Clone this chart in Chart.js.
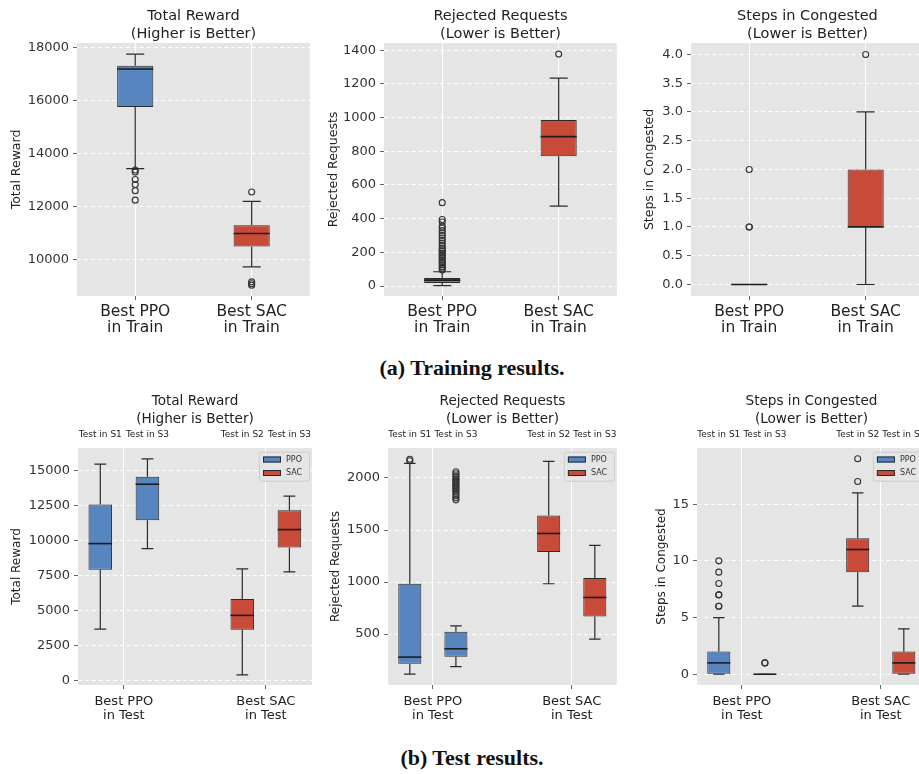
<!DOCTYPE html>
<html>
<head>
<meta charset="utf-8">
<script src="https://cdn.jsdelivr.net/npm/chart.js@4.4.1/dist/chart.umd.min.js"></script>
<style>
html, body { margin: 0; padding: 0; background: #fff; width: 919px; height: 774px; overflow: hidden; position: relative; }
canvas { position: absolute; }
.cap { position: absolute; left: 0; width: 944px; text-align: center; font: bold 22px "Liberation Serif", serif; color: #111; line-height: 24px; }
</style>
</head>
<body>
<canvas id="c1" width="315" height="340" style="left:0;top:0"></canvas>
<canvas id="c2" width="305" height="340" style="left:317px;top:0"></canvas>
<canvas id="c3" width="296" height="340" style="left:633px;top:0"></canvas>
<canvas id="c4" width="312" height="342" style="left:0;top:385px"></canvas>
<canvas id="c5" width="303" height="342" style="left:319px;top:385px"></canvas>
<canvas id="c6" width="286" height="342" style="left:645px;top:385px"></canvas>
<div class="cap" style="top:356px">(a) Training results.</div>
<div class="cap" style="top:746px">(b) Test results.</div>
<script>
'use strict';

const trainLabels = [['Best PPO', 'in Train'], ['Best SAC', 'in Train']];
const testLabels = [['Best PPO', 'in Test'], ['Best SAC', 'in Test']];
const scenarioLabels = ['Test in S1', 'Test in S3', 'Test in S2', 'Test in S3'];
const seriesNames = ['PPO', 'SAC'];
const testSeries = [0, 0, 1, 1];

// box stats: [lower whisker, q1, median, q3, upper whisker]
const trainRewardBoxes = [[13430, 15760, 17200, 17320, 17760], [9720, 10490, 10980, 11290, 12190]];
const trainRewardOutliers = [[13380, 13300, 13020, 12830, 12600, 12240], [12550, 9150, 9080, 9020]];
const trainRejectedBoxes = [[3, 18, 35, 48, 85], [474, 770, 887, 986, 1234]];
const trainRejectedOutliers = [
    [95, 105, 115, 125, 135, 145, 155, 165, 175, 185, 195, 205, 215, 225, 240, 255, 270, 285, 300, 315, 330, 345, 355, 380, 395, 495],
    [1377]
];
const trainCongestedBoxes = [[0, 0, 0, 0, 0], [0, 1, 1, 2, 3]];
const trainCongestedOutliers = [[1, 1, 2], [4]];

const testRewardBoxes = [
    [3685, 7917, 9772, 12553, 15428],
    [9415, 11435, 14000, 14530, 15810],
    [428, 3638, 4660, 5827, 7967],
    [7753, 9486, 10770, 12147, 13146]
];
const testRewardOutliers = [[], [], [], []];
const testRejectedBoxes = [
    [115, 214, 279, 984, 2140],
    [188, 282, 359, 522, 580],
    [984, 1288, 1467, 1640, 2160],
    [452, 669, 852, 1038, 1352]
];
const testRejectedOutliers = [
    [2165, 2180],
    [1790, 1810, 1830, 1850, 1870, 1885, 1900, 1915, 1930, 1945, 1960, 1975, 1990, 2005, 2020, 2040, 2060],
    [],
    []
];
const testCongestedBoxes = [[0, 0, 1, 2, 5], [0, 0, 0, 0, 0], [6, 9, 11, 12, 16], [0, 0, 1, 2, 4]];
const testCongestedOutliers = [[6, 6, 7, 7, 8, 9, 10], [1, 1], [17, 19], []];

const trainRewardTicks = [10000, 12000, 14000, 16000, 18000];
const trainRejectedTicks = [0, 200, 400, 600, 800, 1000, 1200, 1400];
const trainCongestedTicks = [0, 0.5, 1, 1.5, 2, 2.5, 3, 3.5, 4];
const testRewardTicks = [0, 2500, 5000, 7500, 10000, 12500, 15000];
const testRejectedTicks = [500, 1000, 1500, 2000];
const testCongestedTicks = [0, 5, 10, 15];

Chart.defaults.font.family = "'DejaVu Sans', sans-serif";
Chart.defaults.color = '#333';

const seriesColors = ['#5685C0', '#C84A38'];

const panelBg = {
    id: 'panelBg',
    beforeDraw(chart) {
        const {ctx, chartArea: a} = chart;
        ctx.save();
        ctx.fillStyle = '#E5E5E5';
        ctx.fillRect(a.left, a.top, a.width, a.height);
        ctx.restore();
    }
};

// whiskers, caps and medians on top of the floating bars
const whiskers = {
    id: 'whiskers',
    afterDatasetsDraw(chart) {
        const idx = chart.data.datasets.findIndex(d => d.stats);
        const stats = chart.data.datasets[idx].stats;
        const y = chart.scales.y;
        const ctx = chart.ctx;
        ctx.save();
        chart.getDatasetMeta(idx).data.forEach((bar, i) => {
            const [lo, q1, med, q3, hi] = stats[i].map(v => y.getPixelForValue(v));
            const half = bar.width / 2, cap = bar.width / 4;
            ctx.strokeStyle = '#2b2b2b';
            ctx.lineWidth = 1.2;
            ctx.beginPath();
            ctx.moveTo(bar.x, q3); ctx.lineTo(bar.x, hi);
            ctx.moveTo(bar.x, q1); ctx.lineTo(bar.x, lo);
            ctx.moveTo(bar.x - cap, hi); ctx.lineTo(bar.x + cap, hi);
            ctx.moveTo(bar.x - cap, lo); ctx.lineTo(bar.x + cap, lo);
            ctx.stroke();
            ctx.strokeStyle = '#1c1c1c';
            ctx.lineWidth = 1.6;
            ctx.beginPath();
            ctx.moveTo(bar.x - half, med); ctx.lineTo(bar.x + half, med);
            ctx.stroke();
        });
        ctx.restore();
    }
};

const boxLegend = {
    id: 'boxLegend',
    afterDraw(chart) {
        const {ctx, chartArea: a} = chart;
        const left = a.right - 53, top = a.top + 3.7;
        ctx.save();
        ctx.fillStyle = 'rgba(229,229,229,0.85)';
        ctx.strokeStyle = '#cdcdcd';
        ctx.lineWidth = 1;
        ctx.beginPath();
        ctx.roundRect(left + 0.5, top + 0.5, 50, 29, 2);
        ctx.fill();
        ctx.stroke();
        ctx.font = "8px 'DejaVu Sans'";
        ctx.textBaseline = 'middle';
        seriesNames.forEach((name, i) => {
            const cy = top + 7.8 + i * 13.5;
            ctx.fillStyle = seriesColors[i];
            ctx.fillRect(left + 4, cy - 3, 18, 6);
            ctx.strokeStyle = '#2b2b2b';
            ctx.strokeRect(left + 4.5, cy - 2.5, 17, 5);
            ctx.fillStyle = '#333';
            ctx.fillText(name, left + 27, cy);
        });
        ctx.restore();
    }
};

const trainRow = {
    positions: [1, 2], series: [0, 1], labels: trainLabels, xMin: 0.5, xMax: 2.5, barPct: 0.31,
    titleSize: 14.5, titleLh: 1.24, titlePad: 7, xSize: 15.5, xLh: 1.08, xPad: 3.3, xh: 44, yTitleSize: 12.5
};
const testRow = {
    positions: [1 - 0.166, 1 + 0.166, 2 - 0.166, 2 + 0.166], series: testSeries, labels: testLabels,
    xMin: 0.677, xMax: 2.325, barPct: 0.5,
    titleSize: 13.6, titleLh: 1.287, titlePad: 8, xSize: 13, xLh: 1.1, xPad: 5.5, xh: 42, yTitleSize: 12,
    topLabels: scenarioLabels
};

let boxChart = (id, row, p) => {
    const pos = row.positions;
    const outlierPts = [];
    p.outliers.forEach((list, i) => list.forEach(v => outlierPts.push({x: pos[i], y: v})));

    const scales = {
        x: {
            type: 'linear', min: row.xMin, max: row.xMax, offset: false,
            afterBuildTicks: s => { s.ticks = [1, 2].map(v => ({value: v})); },
            afterFit: s => { s.height = row.xh; s.paddingLeft = 0; s.paddingRight = 0; },
            grid: { color: '#ffffff', lineWidth: 1, offset: false, tickLength: 4, tickColor: '#666' },
            border: { display: false },
            ticks: {
                autoSkip: false, maxRotation: 0, minRotation: 0, padding: row.xPad, color: '#222',
                font: { size: row.xSize, lineHeight: row.xLh },
                callback: (v, i) => row.labels[i]
            }
        },
        y: {
            min: p.yMin, max: p.yMax, beginAtZero: false,
            afterBuildTicks: s => { s.ticks = p.ticks.map(v => ({value: v})); },
            afterFit: s => { s.width = p.yw; },
            grid: { color: 'rgba(255,255,255,0.95)', lineWidth: 1, tickLength: 4, tickColor: '#666' },
            border: { display: false, dash: [4, 3] },
            ticks: {
                padding: 4, color: '#333', font: { size: 13 },
                callback: v => v.toFixed(p.digits)
            },
            title: {
                display: true, text: p.yTitle, color: '#222',
                font: { size: row.yTitleSize, lineHeight: 1.2 },
                padding: { top: 9.5, bottom: 0 }
            }
        }
    };
    if (row.topLabels) {
        scales.x2 = {
            type: 'linear', position: 'top', min: row.xMin, max: row.xMax, offset: false,
            afterBuildTicks: s => { s.ticks = pos.map(v => ({value: v})); },
            afterFit: s => { s.height = 20; s.paddingLeft = 0; s.paddingRight = 0; },
            grid: { display: false },
            border: { display: false },
            ticks: {
                autoSkip: false, maxRotation: 0, minRotation: 0, padding: 0, color: '#222',
                font: { size: 9, lineHeight: 1.2 },
                callback: (v, i) => row.topLabels[i]
            }
        };
    }

    new Chart(document.getElementById(id), {
        type: 'bar',
        data: {
            datasets: [
                {
                    type: 'scatter',
                    data: outlierPts,
                    pointStyle: 'circle',
                    pointRadius: 3,
                    pointBackgroundColor: 'rgba(0,0,0,0)',
                    pointBorderColor: '#333',
                    pointBorderWidth: 1.1
                },
                {
                    type: 'bar',
                    data: p.boxes.map((b, i) => ({x: pos[i], y: [b[1], b[3]]})),
                    stats: p.boxes,
                    backgroundColor: row.series.map(s => seriesColors[s]),
                    borderColor: '#2b2b2b',
                    borderWidth: 1,
                    borderSkipped: false,
                    categoryPercentage: 1,
                    barPercentage: row.barPct
                }
            ]
        },
        options: {
            responsive: false,
            animation: false,
            events: [],
            layout: { padding: 0 },
            scales: scales,
            plugins: {
                legend: { display: false },
                tooltip: { enabled: false },
                title: {
                    display: true, fullSize: false, text: p.title, color: '#222',
                    font: { size: row.titleSize, weight: 'normal', lineHeight: row.titleLh },
                    padding: { top: row.titlePad, bottom: 0 }
                }
            }
        },
        plugins: row.topLabels ? [panelBg, whiskers, boxLegend] : [panelBg, whiskers]
    });
}

boxChart('c1', trainRow, {
    title: ['Total Reward', '(Higher is Better)'], yTitle: 'Total Reward',
    boxes: trainRewardBoxes, outliers: trainRewardOutliers, ticks: trainRewardTicks,
    yMin: 8615, yMax: 18185, yw: 77, digits: 0
});
boxChart('c2', trainRow, {
    title: ['Rejected Requests', '(Lower is Better)'], yTitle: 'Rejected Requests',
    boxes: trainRejectedBoxes, outliers: trainRejectedOutliers, ticks: trainRejectedTicks,
    yMin: -59, yMax: 1443, yw: 67, digits: 0
});
boxChart('c3', trainRow, {
    title: ['Steps in Congested', '(Lower is Better)'], yTitle: 'Steps in Congested',
    boxes: trainCongestedBoxes, outliers: trainCongestedOutliers, ticks: trainCongestedTicks,
    yMin: -0.2, yMax: 4.2, yw: 58, digits: 1
});
boxChart('c4', testRow, {
    title: ['Total Reward', '(Higher is Better)'], yTitle: 'Total Reward',
    boxes: testRewardBoxes, outliers: testRewardOutliers, ticks: testRewardTicks,
    yMin: -300, yMax: 16580, yw: 78, digits: 0
});
boxChart('c5', testRow, {
    title: ['Rejected Requests', '(Lower is Better)'], yTitle: 'Rejected Requests',
    boxes: testRejectedBoxes, outliers: testRejectedOutliers, ticks: testRejectedTicks,
    yMin: 11, yMax: 2288, yw: 69, digits: 0
});
boxChart('c6', testRow, {
    title: ['Steps in Congested', '(Lower is Better)'], yTitle: 'Steps in Congested',
    boxes: testCongestedBoxes, outliers: testCongestedOutliers, ticks: testCongestedTicks,
    yMin: -0.95, yMax: 19.95, yw: 52, digits: 0
});
</script>
</body>
</html>
